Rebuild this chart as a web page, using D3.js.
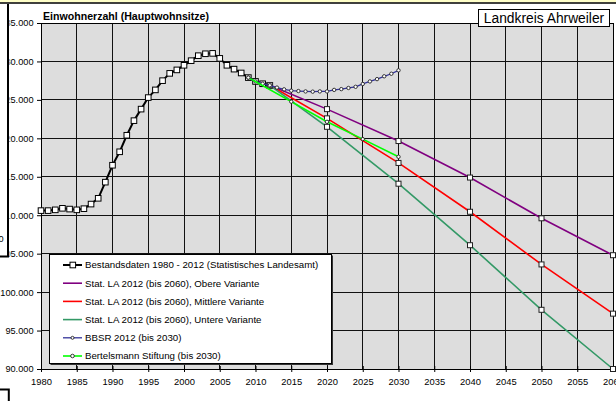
<!DOCTYPE html>
<html><head><meta charset="utf-8">
<script src="https://cdn.jsdelivr.net/npm/d3@7"></script>
<style>
html,body{margin:0;padding:0;background:#fff;}
svg{display:block;font-family:"Liberation Sans",Arial,sans-serif;}
</style></head>
<body>
<svg id="c" width="616" height="401"></svg>
<script>
const bestandYears = d3.range(1980, 2013);
const bestandValues = [110600,110600,110700,110900,110800,110700,110850,111450,112200,114300,
  116500,118250,120400,122300,123800,125300,126300,127500,128450,128900,
  129500,130100,130750,131000,131050,130400,129500,129000,128500,127900,
  127400,127100,126900];
const statYears = [2012, 2020, 2030, 2040, 2050, 2060];
const obereValues = [126900, 123800, 119650, 114900, 109600, 104800];
const mittlereValues = [126900, 122600, 116800, 110450, 103600, 97200];
const untereValues = [126900, 121500, 114100, 106100, 97700, 90000];
const bbsrYears = d3.range(2009, 2031);
const bbsrValues = [127900,127400,127100,126900,126600,126370,126200,126150,126100,126070,
  126100,126100,126300,126400,126550,126700,127070,127400,127700,128070,128400,128840];
const bertelsmannYears = [2009, 2015, 2020, 2025, 2030];
const bertelsmannValues = [127900, 124770, 122150, 119900, 117600];
const xTicks = d3.range(1980, 2061, 5);
const yTicks = d3.range(90000, 135001, 5000);
const legendLabels = [
  "Bestandsdaten 1980 - 2012 (Statistisches Landesamt)",
  "Stat. LA 2012 (bis 2060), Obere Variante",
  "Stat. LA 2012 (bis 2060), Mittlere Variante",
  "Stat. LA 2012 (bis 2060), Untere Variante",
  "BBSR 2012 (bis 2030)",
  "Bertelsmann Stiftung (bis 2030)"
];
const titleText = "Einwohnerzahl (Hauptwohnsitze)";
const regionText = "Landkreis Ahrweiler";

const svg = d3.select("#c");
const L = 41, R = 613, T = 23, B = 369;
const x = d3.scaleLinear().domain([1980, 2060]).range([L, R]);
const y = d3.scaleLinear().domain([90000, 135000]).range([B, T]);
const fmt = v => d3.format(",")(v).replace(/,/g, ".");

// top band
svg.append("rect").attr("x",0).attr("y",0).attr("width",616).attr("height",2.5).attr("fill","#ffffc8");
svg.append("line").attr("x1",0).attr("x2",616).attr("y1",3).attr("y2",3).attr("stroke","#000").attr("stroke-width",1.5);

// plot background
svg.append("rect").attr("x",L).attr("y",T).attr("width",R-L).attr("height",B-T).attr("fill","#dddddd");

// grid
const g = svg.append("g").attr("shape-rendering","crispEdges");
g.selectAll(".vg").data(xTicks).join("line")
  .attr("x1",d=>x(d)).attr("x2",d=>x(d)).attr("y1",T).attr("y2",B).attr("stroke","#111").attr("stroke-width",1);
g.selectAll(".hg").data(yTicks).join("line")
  .attr("x1",L).attr("x2",R).attr("y1",d=>y(d)).attr("y2",d=>y(d)).attr("stroke","#111").attr("stroke-width",1);
g.append("rect").attr("x",L).attr("y",T).attr("width",R-L).attr("height",B-T).attr("fill","none").attr("stroke","#000");

// axes
const xAxis = d3.axisBottom(x).tickValues(xTicks).tickFormat(d3.format("d")).tickSize(3);
const xa = svg.append("g").attr("transform",`translate(0,${B})`).call(xAxis);
xa.select(".domain").remove();
xa.selectAll(".tick line").attr("y1",-3).attr("y2",3).attr("stroke","#000");
xa.selectAll(".tick text").attr("y",9).attr("font-size","9.4px").attr("font-family","Liberation Sans, Arial").attr("fill","#000");

const yAxis = d3.axisLeft(y).tickValues(yTicks).tickFormat(fmt).tickSize(4);
const ya = svg.append("g").attr("transform",`translate(${L},0)`).call(yAxis);
ya.select(".domain").remove();
ya.selectAll(".tick line").attr("x1",-4).attr("x2",1).attr("stroke","#000");
ya.selectAll(".tick text").attr("x",-7.5).attr("font-size","9.2px").attr("font-family","Liberation Sans, Arial").attr("fill","#000");

// series
const line = d3.line().x(d=>x(d[0])).y(d=>y(d[1]));
const zip = (a,b) => a.map((v,i)=>[v,b[i]]);
const plot = svg.append("g");

function drawSeries(pts, color, width, marker){
  plot.append("path").datum(pts).attr("d",line).attr("fill","none").attr("stroke",color).attr("stroke-width",width).attr("stroke-linejoin","round");
  if(marker==="sq"){
    plot.selectAll(null).data(pts).join("rect")
      .attr("x",d=>x(d[0])-2.5).attr("y",d=>y(d[1])-2.5).attr("width",5).attr("height",5)
      .attr("fill","#fff").attr("stroke","#222").attr("stroke-width",1);
  } else if(marker==="bsq"){
    plot.selectAll(null).data(pts).join("rect")
      .attr("x",d=>x(d[0])-2.8).attr("y",d=>y(d[1])-2.8).attr("width",5.6).attr("height",5.6)
      .attr("fill","#fff").attr("stroke","#000").attr("stroke-width",1);
  } else if(marker==="ci"){
    plot.selectAll(null).data(pts).join("circle")
      .attr("cx",d=>x(d[0])).attr("cy",d=>y(d[1])).attr("r",1.7)
      .attr("fill","#fff").attr("stroke","#222").attr("stroke-width",0.9);
  }
}
drawSeries(zip(bestandYears,bestandValues),"#000",2,"bsq");
drawSeries(zip(statYears,obereValues),"#800080",1.6,"sq");
drawSeries(zip(statYears,mittlereValues),"#ff0000",1.6,"sq");
drawSeries(zip(statYears,untereValues),"#339966",1.6,"sq");
drawSeries(zip(bbsrYears,bbsrValues),"#333399",1.3,"ci");
drawSeries(zip(bertelsmannYears,bertelsmannValues),"#00ff00",1.6,"ci");

// title
svg.append("text").attr("x",43).attr("y",20).attr("font-size","10.6px").attr("font-weight","bold").attr("fill","#000").text(titleText);

// region box
svg.append("rect").attr("x",478.5).attr("y",9.5).attr("width",131).attr("height",17).attr("fill","#fff").attr("stroke","#000");
svg.append("text").attr("x",544).attr("y",23).attr("text-anchor","middle").attr("font-size","13.8px").attr("fill","#000").text(regionText);

// legend
const lg = svg.append("g");
lg.append("rect").attr("x",50.5).attr("y",255.5).attr("width",282.5).attr("height",109.5).attr("fill","#333");
lg.append("rect").attr("x",49.5).attr("y",254.5).attr("width",282).attr("height",109).attr("fill","#fff").attr("stroke","#000");
const legendStyles = [
  {c:"#000",w:2,m:"bsq"},{c:"#800080",w:1.6,m:null},{c:"#ff0000",w:1.6,m:null},
  {c:"#339966",w:1.6,m:null},{c:"#333399",w:1.3,m:"dot"},{c:"#00ff00",w:1.6,m:"ci"}
];
legendLabels.forEach((t,i)=>{
  const cy = 265 + i*18.2;
  const s = legendStyles[i];
  lg.append("line").attr("x1",63).attr("x2",82).attr("y1",cy).attr("y2",cy).attr("stroke",s.c).attr("stroke-width",s.w);
  if(s.m==="bsq") lg.append("rect").attr("x",70).attr("y",cy-2.8).attr("width",5.6).attr("height",5.6).attr("fill","#fff").attr("stroke","#000");
  if(s.m==="dot") lg.append("circle").attr("cx",72.5).attr("cy",cy).attr("r",1.5).attr("fill","#fff").attr("stroke","#222").attr("stroke-width",0.9);
  if(s.m==="ci") lg.append("circle").attr("cx",72.5).attr("cy",cy).attr("r",1.8).attr("fill","#fff").attr("stroke","#222").attr("stroke-width",0.9);
  lg.append("text").attr("x",85).attr("y",cy+3.4).attr("font-size","9.7px").attr("fill","#000").text(t);
});

// left overlay fragments (cropped neighbouring objects)
svg.append("rect").attr("x",0).attr("y",4).attr("width",9.5).attr("height",252).attr("fill","#fff");
svg.append("text").attr("x",-1.5).attr("y",242).attr("font-size","9.2px").attr("fill","#000").text("0");
svg.append("path").attr("d","M8,4 V256.5 H0").attr("fill","none").attr("stroke","#000").attr("stroke-width",2);
svg.append("path").attr("d","M0,389.5 H8.8 V401").attr("fill","none").attr("stroke","#000").attr("stroke-width",2);
</script>
</body></html>
